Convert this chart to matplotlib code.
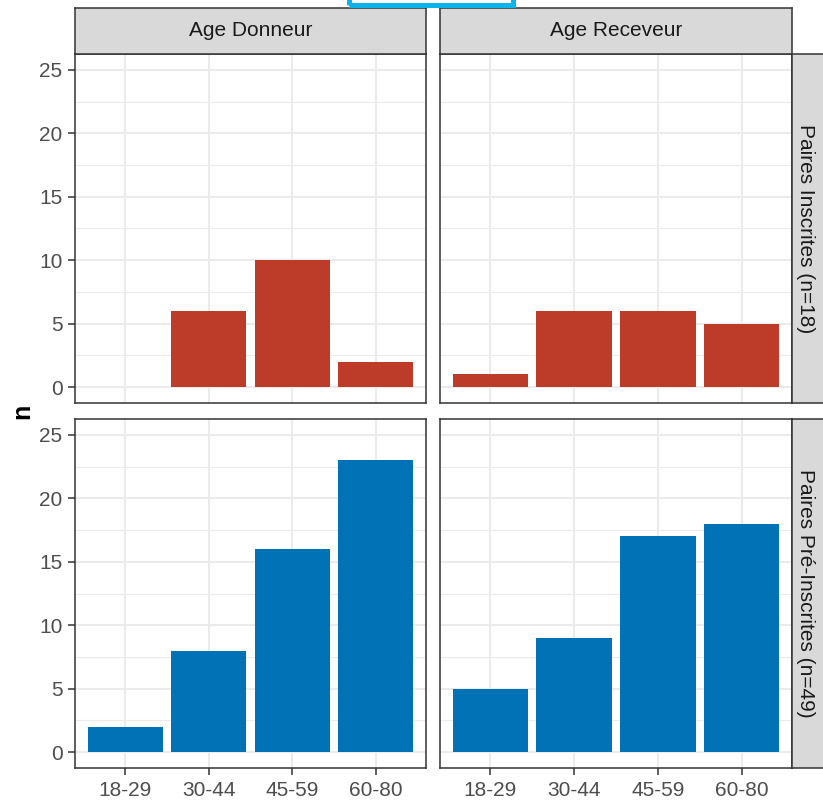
import numpy as np
import matplotlib.pyplot as plt
from matplotlib.patches import Rectangle

plt.rcParams['font.family'] = ['Liberation Sans', 'DejaVu Sans']

# data
age_groups = ["18-29", "30-44", "45-59", "60-80"]
col_labels = ["Age Donneur", "Age Receveur"]
row_labels = ["Paires Inscrites (n=18)", "Paires Pré-Inscrites (n=49)"]

inscrites_donneur = [0, 6, 10, 2]
inscrites_receveur = [1, 6, 6, 5]
preinscrites_donneur = [2, 8, 16, 23]
preinscrites_receveur = [5, 9, 17, 18]

values = [[inscrites_donneur, inscrites_receveur],
          [preinscrites_donneur, preinscrites_receveur]]
row_colors = ["#BC3C29", "#0072B5"]

W, H = 823, 802
fig = plt.figure(figsize=(W / 100, H / 100), dpi=100)


def box(x0, y0, x1, y1):
    # pixel box (top-left origin) -> figure fraction rect
    return [x0 / W, 1 - y1 / H, (x1 - x0) / W, (y1 - y0) / H]


col_x = [(75, 426), (440, 792)]
row_y = [(54, 403), (419, 768)]

x = np.arange(1, len(age_groups) + 1)

for r in range(2):
    for c in range(2):
        ax = fig.add_axes(box(col_x[c][0], row_y[r][0], col_x[c][1], row_y[r][1]))
        ax.bar(x, values[r][c], width=0.9, color=row_colors[r], zorder=3)
        ax.set_xlim(0.4, 4.6)
        ax.set_ylim(-1.25, 26.25)
        ax.set_yticks([0, 5, 10, 15, 20, 25])
        ax.set_yticks([2.5, 7.5, 12.5, 17.5, 22.5], minor=True)
        ax.set_xticks(x)
        ax.grid(which='major', color='#EBEBEB', linewidth=1.5, zorder=0)
        ax.grid(which='minor', axis='y', color='#EBEBEB', linewidth=0.8, zorder=0)
        ax.tick_params(which='minor', length=0)
        ax.tick_params(which='major', length=5, width=1.1, color='#333333',
                       labelsize=15, labelcolor='#4D4D4D', pad=4)
        for s in ax.spines.values():
            s.set_color('#333333')
            s.set_linewidth(1.1)
            s.set_zorder(4)
        if c == 0:
            ax.set_yticklabels([str(v) for v in [0, 5, 10, 15, 20, 25]])
        else:
            ax.tick_params(axis='y', left=False, labelleft=False)
        if r == 1:
            ax.set_xticklabels(age_groups)
        else:
            ax.tick_params(axis='x', bottom=False, labelbottom=False)

# top strips
for c in range(2):
    sax = fig.add_axes(box(col_x[c][0], 8, col_x[c][1], 54))
    sax.set_facecolor('#D9D9D9')
    sax.set_xticks([])
    sax.set_yticks([])
    for s in sax.spines.values():
        s.set_color('#333333')
        s.set_linewidth(1.1)
    sax.text(0.5, 0.5, col_labels[c], ha='center', va='center',
             fontsize=15, color='#1A1A1A', transform=sax.transAxes)

# right strips (cut by the figure edge)
for r in range(2):
    sax = fig.add_axes(box(792, row_y[r][0], 838, row_y[r][1]))
    sax.set_facecolor('#D9D9D9')
    sax.set_xticks([])
    sax.set_yticks([])
    for s in sax.spines.values():
        s.set_color('#333333')
        s.set_linewidth(1.1)
    fig.text(806 / W, 1 - (row_y[r][0] + row_y[r][1]) / 2 / H, row_labels[r],
             rotation=-90, ha='center', va='center', fontsize=15, color='#1A1A1A')

fig.text(22 / W, 1 - 411 / H, "n", rotation=90, ha='center', va='center',
         fontsize=18, fontweight='bold', color='black')

# cyan selection box at top
fig.patches.append(Rectangle((348.5 / W, 1 - 4.7 / H), (513 - 348.5) / W, 20 / H,
                             transform=fig.transFigure, fill=False,
                             edgecolor='#0DB4EC', linewidth=3.6))

fig.savefig("out.png", dpi=100)
